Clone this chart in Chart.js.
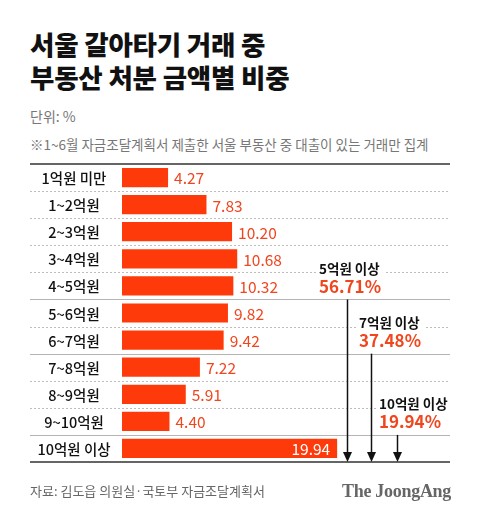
<!DOCTYPE html>
<html>
<head>
<meta charset="utf-8">
<script src="https://cdn.jsdelivr.net/npm/chart.js@4.4.1/dist/chart.umd.min.js"></script>
<style>
  body { margin: 0; background: #fff; font-family: "Noto Sans CJK KR", sans-serif; }
  #wrap { position: relative; width: 480px; height: 519px; overflow: hidden; }
  #chart { position: absolute; left: 0; top: 0; }
  .txt { position: absolute; white-space: nowrap; line-height: 1; }
  .title { left: 30px; font-size: 26.5px; font-weight: 900; color: #111; letter-spacing: -0.2px; }
  .unit { left: 30px; top: 109px; font-size: 14px; color: #777; }
  .note { left: 30px; top: 138px; font-size: 13.5px; color: #777; }
  .source { left: 30px; top: 484px; font-size: 13px; color: #666; }
  .brand { right: 29px; top: 482px; font-family: "Liberation Serif", serif; font-weight: bold; font-size: 18px; color: #666; letter-spacing: -0.3px; }
</style>
</head>
<body>
<div id="wrap">
  <div class="txt title" style="top:31px">서울 갈아타기 거래 중</div>
  <div class="txt title" style="top:64px">부동산 처분 금액별 비중</div>
  <div class="txt unit">단위: %</div>
  <div class="txt note">※1~6월 자금조달계획서 제출한 서울 부동산 중 대출이 있는 거래만 집계</div>
  <canvas id="chart" width="480" height="519"></canvas>
  <div class="txt source">자료: 김도읍 의원실·국토부 자금조달계획서</div>
  <div class="txt brand">The JoongAng</div>
</div>
<script>
// 처분 금액 구간별 비중 (%)
const categories = ['1억원 미만', '1~2억원', '2~3억원', '3~4억원', '4~5억원', '5~6억원',
                    '6~7억원', '7~8억원', '8~9억원', '9~10억원', '10억원 이상'];
const shares = [4.27, 7.83, 10.20, 10.68, 10.32, 9.82, 9.42, 7.22, 5.91, 4.40, 19.94];

// 누적 구간 표시
const groupLabels = ['5억원 이상', '7억원 이상', '10억원 이상'];
const groupShares = [56.71, 37.48, 19.94];
const groupStart = [5, 7, 10];   // 구간이 시작되는 카테고리 순번

const BAR = '#ff3a0a';
const ORANGE = '#f0461e';
const KR = '"Noto Sans CJK KR", sans-serif';

const decor = {
    id: 'decor',
    beforeDatasetsDraw(chart) {
        const { ctx, scales: { y } } = chart;
        const left = 30, right = 450;
        const step = y.getPixelForValue(1) - y.getPixelForValue(0);
        ctx.save();
        for (let i = 1; i < categories.length; i++) {
            const py = Math.round(y.getPixelForValue(i) - step / 2) + 0.5;
            const solid = groupStart.includes(i);
            ctx.beginPath();
            ctx.strokeStyle = solid ? '#b4b4b4' : '#bdbdbd';
            ctx.lineWidth = 1;
            ctx.setLineDash(solid ? [] : [2, 2]);
            ctx.moveTo(left, py);
            ctx.lineTo(right, py);
            ctx.stroke();
        }
        ctx.setLineDash([]);
        ctx.strokeStyle = '#333';
        ctx.lineWidth = 1.5;
        const top = y.getPixelForValue(0) - step / 2;
        const bottom = y.getPixelForValue(categories.length - 1) + step / 2;
        ctx.beginPath();
        ctx.moveTo(left, top); ctx.lineTo(right, top);
        ctx.moveTo(left, bottom); ctx.lineTo(right, bottom);
        ctx.stroke();
        ctx.restore();
    },
    afterDatasetsDraw(chart) {
        const { ctx, scales: { y } } = chart;
        const meta = chart.getDatasetMeta(0);
        const step = y.getPixelForValue(1) - y.getPixelForValue(0);
        const bottom = y.getPixelForValue(categories.length - 1) + step / 2;
        ctx.save();
        ctx.textBaseline = 'middle';

        // 카테고리 이름
        ctx.fillStyle = '#111';
        ctx.font = '500 14.5px ' + KR;
        ctx.textAlign = 'center';
        categories.forEach((c, i) => ctx.fillText(c, 74, y.getPixelForValue(i) + 1));

        // 값
        ctx.font = '15.5px ' + KR;
        meta.data.forEach((bar, i) => {
            const label = shares[i].toFixed(2);
            if (i === categories.length - 1) {
                ctx.fillStyle = '#fff';
                ctx.textAlign = 'right';
                ctx.fillText(label, bar.x - 7, bar.y + 1);
            } else {
                ctx.fillStyle = ORANGE;
                ctx.textAlign = 'left';
                ctx.fillText(label, bar.x + 6, bar.y + 1);
            }
        });

        // 누적 구간 화살표와 라벨
        const arrowX = [347.5, 371.5, 397.5];
        const labelX = [319, 359, 379];
        groupStart.forEach((s, k) => {
            const startY = y.getPixelForValue(s) - step / 2;
            const ax = arrowX[k];
            ctx.strokeStyle = '#111';
            ctx.fillStyle = '#111';
            ctx.lineWidth = 1.5;
            ctx.beginPath();
            ctx.moveTo(ax, startY);
            ctx.lineTo(ax, bottom - 8);
            ctx.stroke();
            ctx.beginPath();
            ctx.moveTo(ax - 4.5, bottom - 10);
            ctx.lineTo(ax + 4.5, bottom - 10);
            ctx.lineTo(ax, bottom);
            ctx.closePath();
            ctx.fill();

            const ly = startY - 31;
            const py = startY - 13;
            ctx.textAlign = 'left';
            ctx.font = 'bold 13.5px ' + KR;
            const w1 = ctx.measureText(groupLabels[k]).width;
            ctx.font = 'bold 17px ' + KR;
            const w2 = ctx.measureText(groupShares[k].toFixed(2) + '%').width;
            ctx.fillStyle = '#fff';
            ctx.fillRect(labelX[k] - 3, ly - 9, Math.max(w1, w2) + 6, 36);
            ctx.fillStyle = '#111';
            ctx.font = 'bold 13.5px ' + KR;
            ctx.fillText(groupLabels[k], labelX[k], ly);
            ctx.fillStyle = ORANGE;
            ctx.font = 'bold 17px ' + KR;
            ctx.fillText(groupShares[k].toFixed(2) + '%', labelX[k], py);
        });
        ctx.restore();
    }
};

new Chart(document.getElementById('chart'), {
    type: 'bar',
    data: {
        labels: categories,
        datasets: [{
            data: shares,
            backgroundColor: BAR,
            barPercentage: 0.71,
            categoryPercentage: 1
        }]
    },
    options: {
        indexAxis: 'y',
        responsive: false,
        animation: false,
        layout: { padding: { left: 122, top: 164, right: 30, bottom: 57 } },
        scales: {
            x: { display: false, min: 0, max: 30.4 },
            y: { display: false }
        },
        plugins: { legend: { display: false }, tooltip: { enabled: false } }
    },
    plugins: [decor]
});
</script>
</body>
</html>
